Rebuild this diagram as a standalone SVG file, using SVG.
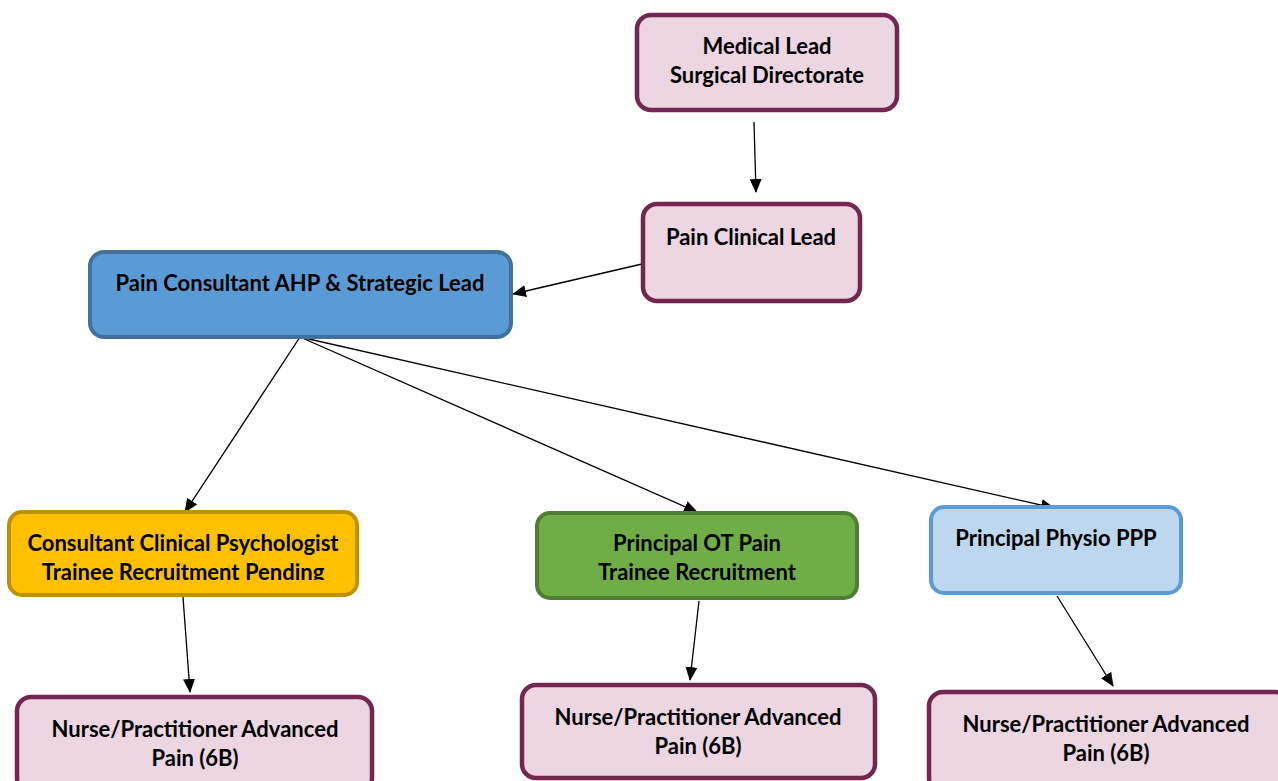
<svg xmlns="http://www.w3.org/2000/svg" width="1278" height="781" viewBox="0 0 1278 781">
<defs>
<marker id="ah" markerWidth="14" markerHeight="12" refX="13" refY="6" orient="auto" markerUnits="userSpaceOnUse"><path d="M0,0 L14,6 L0,12 Z" fill="#000"/></marker>
<clipPath id="clipPsy"><rect x="9" y="512" width="348" height="68"/></clipPath>
</defs>
<style>
text{font-family:"Lato","Open Sans","Liberation Sans",sans-serif;font-weight:bold;font-size:22px;fill:#000;text-anchor:middle}
.pk{fill:#ebd6e1;stroke:#73264f;stroke-width:4.5}
.bl{fill:#5b9bd5;stroke:#41719c;stroke-width:4}
.yl{fill:#ffc000;stroke:#bf9000;stroke-width:4}
.gr{fill:#70ad47;stroke:#507e32;stroke-width:4}
.lb{fill:#bdd7ee;stroke:#5b9bd5;stroke-width:4}
.c line{stroke:#000;stroke-width:1.3;marker-end:url(#ah)}
</style>
<rect width="1278" height="781" fill="#fff"/>
<g class="c" id="connectors">
<line x1="754" y1="122" x2="756" y2="192"/>
<line x1="642" y1="264" x2="513" y2="294"/>
<line x1="300" y1="337" x2="185" y2="512"/>
<line x1="300" y1="337" x2="697" y2="512"/>
<line x1="300" y1="337" x2="1054" y2="508"/>
<line x1="183" y1="597" x2="190" y2="692"/>
<line x1="699" y1="601" x2="690" y2="680"/>
<line x1="1057" y1="596" x2="1113" y2="686"/>
</g>
<g id="medical-lead"><rect class="pk" x="637" y="15" width="260" height="95" rx="14"/><text x="767" y="54">Medical Lead</text><text x="767" y="83">Surgical Directorate</text></g>
<g id="pain-clinical-lead"><rect class="pk" x="643" y="204" width="217" height="97" rx="14"/><text x="751" y="245">Pain Clinical Lead</text></g>
<g id="pain-consultant"><rect class="bl" x="90" y="252" width="421" height="85" rx="14"/><text x="300" y="291">Pain Consultant AHP &amp; Strategic Lead</text></g>
<g id="psychologist"><rect class="yl" x="9" y="512" width="348" height="83" rx="13"/><text x="183" y="551">Consultant Clinical Psychologist</text><text x="183" y="580" clip-path="url(#clipPsy)">Trainee Recruitment Pending</text></g>
<g id="ot"><rect class="gr" x="537" y="513" width="320" height="85" rx="13"/><text x="697" y="551">Principal OT Pain</text><text x="697" y="580">Trainee Recruitment</text></g>
<g id="physio"><rect class="lb" x="931" y="507" width="250" height="86" rx="13"/><text x="1056" y="546">Principal Physio PPP</text></g>
<g id="nurse-1"><rect class="pk" x="17" y="697" width="355" height="95" rx="14"/><text x="195" y="737">Nurse/Practitioner Advanced</text><text x="195" y="766">Pain (6B)</text></g>
<g id="nurse-2"><rect class="pk" x="522" y="685" width="353" height="93" rx="14"/><text x="698" y="725">Nurse/Practitioner Advanced</text><text x="698" y="754">Pain (6B)</text></g>
<g id="nurse-3"><rect class="pk" x="929" y="692" width="360" height="100" rx="14"/><text x="1106" y="732">Nurse/Practitioner Advanced</text><text x="1106" y="761">Pain (6B)</text></g>
</svg>
